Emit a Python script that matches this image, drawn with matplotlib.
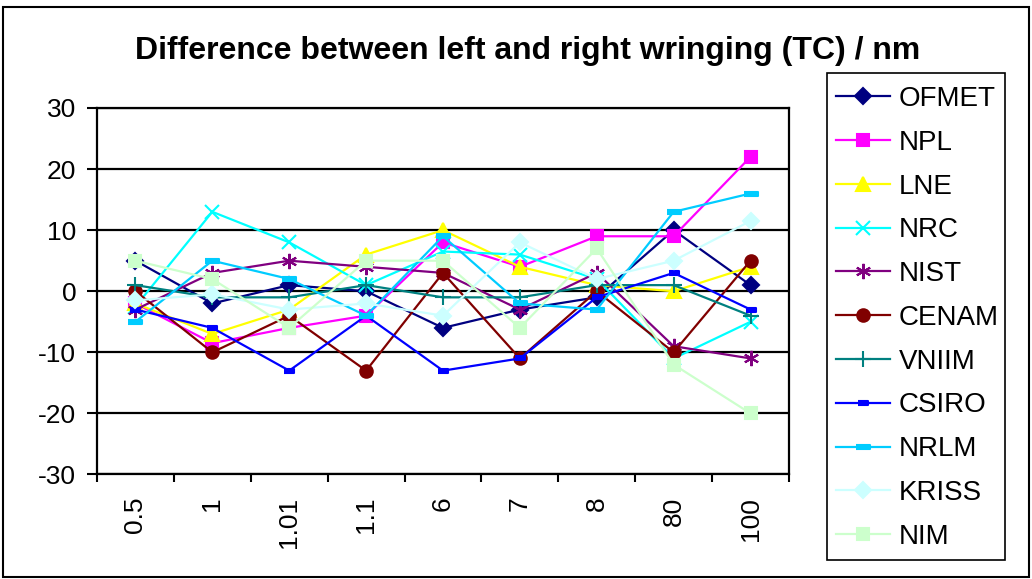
import matplotlib
matplotlib.use("Agg")
import matplotlib.pyplot as plt
from matplotlib.patches import Rectangle

plt.rcParams['font.family'] = ['Liberation Sans', 'DejaVu Sans']
plt.rcParams['axes.unicode_minus'] = False

# data
categories = ['0.5', '1', '1.01', '1.1', '6', '7', '8', '80', '100']

OFMET = [5, -2, 1, 0, -6, -3, -1, 10, 1]
NPL = [-2, -8.5, -6, -4, 8, 4, 9, 9, 22]
LNE = [-2, -7, -3, 6, 10, 4, 1, 0, 4]
NRC = [-2.5, 13, 8, 1, 6.5, 6, 2, -11, -5]
NIST = [-3, 3, 5, 4, 3, -3, 3, -9, -11]
CENAM = [0, -10, -4, -13, 3, -11, 0, -10, 5]
VNIIM = [1, -1, -1, 1, -1, -1, 1, 1, -4]
CSIRO = [-3, -6, -13, -4, -13, -11, -1, 3, -3]
NRLM = [-5, 5, 2, -4, 9, -2, -3, 13, 16]
KRISS = [-1.5, -0.5, -3, -2, -4, 8, 2, 5, 11.5]
NIM = [5, 2, -6, 5, 5, -6, 7, -12, -20]

dash_short = [(-1, -0.45), (1, -0.45), (1, 0.45), (-1, 0.45)]
dash_long = [(-1.6, -0.45), (1.6, -0.45), (1.6, 0.45), (-1.6, 0.45)]

series = [
    ('OFMET', OFMET, '#000080', 'D', 8),
    ('NPL', NPL, '#FF00FF', 's', 9),
    ('LNE', LNE, '#FFFF00', '^', 10),
    ('NRC', NRC, '#00FFFF', 'x', 10),
    ('NIST', NIST, '#800080', (6, 2, 0), 11),
    ('CENAM', CENAM, '#800000', 'o', 9),
    ('VNIIM', VNIIM, '#008080', '+', 12),
    ('CSIRO', CSIRO, '#0000FF', dash_short, 7),
    ('NRLM', NRLM, '#00CCFF', dash_long, 10),
    ('KRISS', KRISS, '#CCFFFF', 'D', 8),
    ('NIM', NIM, '#CCFFCC', 's', 9),
]

fig = plt.figure(figsize=(10.32, 5.79), dpi=100)
ax = fig.add_axes([0.094, 0.1805, 0.6705, 0.633])

x = list(range(len(categories)))
for name, vals, col, mk, ms in series:
    ax.plot(x, vals, color=col, lw=1.6, marker=mk, markersize=ms,
            markerfacecolor=col, markeredgecolor=col, mew=1.5,
            label=name, zorder=3)

ax.set_xlim(-0.5, 8.5)
ax.set_ylim(-30, 30)
ax.set_yticks([-30, -20, -10, 0, 10, 20, 30])
ax.yaxis.grid(True, color='black', lw=1.6)
ax.set_axisbelow(True)

ax.set_xticks(x)
ax.set_xticklabels(categories, rotation=90)
ax.set_xticks([i - 0.5 for i in range(len(categories) + 1)], minor=True)
ax.tick_params(axis='x', which='major', length=0, pad=16, labelsize=19)
ax.tick_params(axis='x', which='minor', length=6, width=1.5, direction='out')
ax.tick_params(axis='y', length=7, width=1.5, pad=8, labelsize=19)

for sp in ax.spines.values():
    sp.set_color('black')
    sp.set_linewidth(1.6)

fig.text(0.511, 0.912, 'Difference between left and right wringing (TC) / nm',
         ha='center', va='center', fontsize=23, fontweight='bold')

# legend without its own frame; the box is drawn separately
leg = ax.legend(loc='upper left', bbox_to_anchor=(836 / 1032, 1 - 86 / 579),
                bbox_transform=fig.transFigure, borderaxespad=0,
                fontsize=20, frameon=False, handlelength=1.95,
                labelspacing=0.64, borderpad=0.0, handletextpad=0.32)

fig.patches.append(Rectangle((827 / 1032, 1 - 560 / 579), 178 / 1032, 487 / 579,
                             transform=fig.transFigure, fill=False,
                             edgecolor='black', lw=1.2))
fig.patches.append(Rectangle((3 / 1032, 2 / 579), 1026 / 1032, 570 / 579,
                             transform=fig.transFigure, fill=False,
                             edgecolor='black', lw=1.5))

fig.savefig('out.png', dpi=100)
